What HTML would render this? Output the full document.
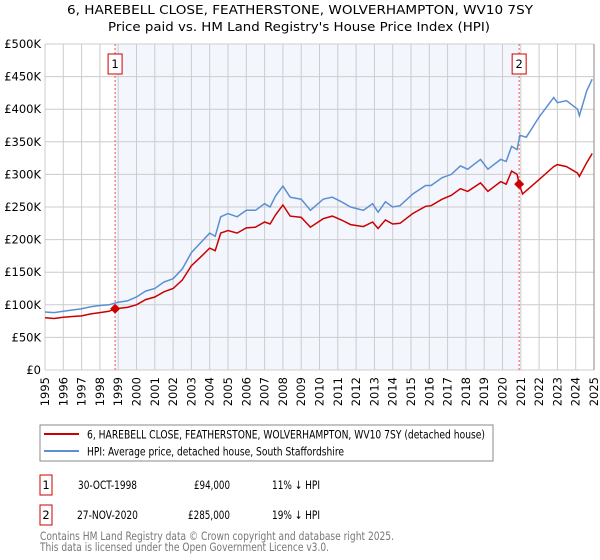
<!DOCTYPE html>
<html><head><meta charset="utf-8"><style>
body{margin:0;background:#fff;font-family:"DejaVu Sans","Liberation Sans",sans-serif;}
svg{display:block}
</style></head><body>
<svg id="c" width="600" height="560" xmlns="http://www.w3.org/2000/svg" font-family="DejaVu Sans, Liberation Sans, sans-serif">
<text x="67" y="14" font-size="12.5" textLength="466" lengthAdjust="spacingAndGlyphs" fill="#000">6, HAREBELL CLOSE, FEATHERSTONE, WOLVERHAMPTON, WV10 7SY</text>
<text x="108" y="31" font-size="12.5" textLength="382" lengthAdjust="spacingAndGlyphs" fill="#000">Price paid vs. HM Land Registry's House Price Index (HPI)</text>
<g id="plot"></g>
<rect x="40" y="425" width="453" height="36" fill="#fff" stroke="#888"/>
<line x1="44" y1="434" x2="79" y2="434" stroke="#cc0000" stroke-width="2"/>
<text x="87" y="438.5" font-size="11.5" textLength="398" lengthAdjust="spacingAndGlyphs">6, HAREBELL CLOSE, FEATHERSTONE, WOLVERHAMPTON, WV10 7SY (detached house)</text>
<line x1="44" y1="451" x2="79" y2="451" stroke="#5b8fd0" stroke-width="2"/>
<text x="87" y="455.5" font-size="11.5" textLength="257" lengthAdjust="spacingAndGlyphs">HPI: Average price, detached house, South Staffordshire</text>
<g font-size="11.5">
<rect x="40" y="475" width="12" height="20" fill="#fff" stroke="#cc0000"/>
<text x="46" y="489" text-anchor="middle">1</text>
<text x="78" y="489" textLength="59" lengthAdjust="spacingAndGlyphs">30-OCT-1998</text>
<text x="194" y="489" textLength="36" lengthAdjust="spacingAndGlyphs">£94,000</text>
<text x="272" y="489" textLength="48" lengthAdjust="spacingAndGlyphs">11% ↓ HPI</text>
<rect x="40" y="505" width="12" height="20" fill="#fff" stroke="#cc0000"/>
<text x="46" y="519" text-anchor="middle">2</text>
<text x="77" y="519" textLength="61" lengthAdjust="spacingAndGlyphs">27-NOV-2020</text>
<text x="188" y="519" textLength="42" lengthAdjust="spacingAndGlyphs">£285,000</text>
<text x="272" y="519" textLength="48" lengthAdjust="spacingAndGlyphs">19% ↓ HPI</text>
</g>
<text x="40" y="540" font-size="11.5" textLength="354" lengthAdjust="spacingAndGlyphs" fill="#777">Contains HM Land Registry data © Crown copyright and database right 2025.</text>
<text x="40" y="551" font-size="11.5" textLength="289" lengthAdjust="spacingAndGlyphs" fill="#777">This data is licensed under the Open Government Licence v3.0.</text>
</svg>
<script>
const yearTicks=[1995,1996,1997,1998,1999,2000,2001,2002,2003,2004,2005,2006,2007,2008,2009,2010,2011,2012,2013,2014,2015,2016,2017,2018,2019,2020,2021,2022,2023,2024,2025];
const valueTicks=[0,50,100,150,200,250,300,350,400,450,500];
const valueLabels=["£0","£50K","£100K","£150K","£200K","£250K","£300K","£350K","£400K","£450K","£500K"];
const hpiYears=[1995,1995.5,1996,1996.5,1997,1997.5,1998,1998.5,1999,1999.5,2000,2000.5,2001,2001.5,2002,2002.5,2003,2003.5,2004,2004.3,2004.6,2005,2005.5,2006,2006.5,2007,2007.3,2007.6,2008,2008.4,2009,2009.5,2010.2,2010.7,2011.2,2011.7,2012.4,2012.9,2013.2,2013.6,2014,2014.4,2015.1,2015.8,2016.1,2016.7,2017.2,2017.7,2018.1,2018.8,2019.2,2019.9,2020.2,2020.5,2020.8,2020.95,2021.3,2022,2022.8,2023,2023.5,2024.1,2024.2,2024.6,2024.9];
const hpiValues=[89,88,90,92,94,97,99,100,104,106,112,121,125,135,140,155,180,195,210,205,235,240,235,245,245,255,250,267,282,265,262,245,262,265,258,250,245,255,242,258,250,252,270,283,283,295,300,313,308,323,308,323,320,343,338,360,357,388,418,410,413,400,390,428,446];
const ppYears=[1995,1995.5,1996,1996.5,1997,1997.5,1998,1998.5,1998.83,1999.5,2000,2000.5,2001,2001.5,2002,2002.5,2003,2003.5,2004,2004.3,2004.6,2005,2005.5,2006,2006.5,2007,2007.3,2007.6,2008,2008.4,2009,2009.5,2010.2,2010.7,2011.2,2011.7,2012.4,2012.9,2013.2,2013.6,2014,2014.4,2015.1,2015.8,2016.1,2016.7,2017.2,2017.7,2018.1,2018.8,2019.2,2019.9,2020.2,2020.5,2020.8,2020.91,2021.1,2021.3,2022,2022.8,2023,2023.5,2024.1,2024.2,2024.6,2024.9];
const ppValues=[80,79,81,82,83,86,88,90,94,96,100,108,112,120,125,138,160,173,187,183,210,214,210,218,219,227,224,238,253,236,234,219,232,236,230,223,220,227,217,230,224,225,240,251,252,262,268,278,274,287,274,289,285,305,300,285,270,275,292,312,315,312,302,297,318,332];
const saleYears=[1998.83,2020.91];
const saleValues=[94,285];
const saleLabels=["1","2"];
const X0=45,X1=594,Y0=370,Y1=44;
const xs=y=>X0+(y-1995)/30*(X1-X0);
const ys=v=>Y0-v/500*(Y0-Y1);
const NS="http://www.w3.org/2000/svg";
const g=document.getElementById('plot');
function mk(t,a){const e=document.createElementNS(NS,t);for(const k in a)e.setAttribute(k,a[k]);g.appendChild(e);return e;}
let r=mk('rect',{x:xs(saleYears[0]),y:Y1,width:xs(saleYears[1])-xs(saleYears[0]),height:Y0-Y1,fill:'#f3f6fd'});


yearTicks.forEach(yr=>{
 const l=mk('line',{x1:xs(yr),x2:xs(yr),y1:Y1,y2:Y0,stroke:'#cccccc','stroke-width':1});
 
 
 const t=mk('text',{x:0,y:0,'font-size':'11.5',transform:`translate(${xs(yr)+4},${Y0+7}) rotate(-90)`,'text-anchor':'end'});
 t.textContent=yr;
 
 
});
valueTicks.forEach((v,i)=>{
 const l=mk('line',{x1:X0,x2:X1,y1:ys(v),y2:ys(v),stroke:'#cccccc','stroke-width':1});
 
 
 const t=mk('text',{x:X0-4,y:ys(v)+4,'font-size':'11.5','text-anchor':'end'});
 t.textContent=valueLabels[i];
 
 
});
const ax=mk('line',{x1:X1,x2:X1,y1:Y1,y2:Y0,stroke:'#888'});


saleYears.forEach((yr,i)=>{
 const l=mk('line',{x1:xs(yr),x2:xs(yr),y1:Y1,y2:Y0,stroke:'#ee5555','stroke-dasharray':'2,2','stroke-width':1});
 
 
 const b=mk('rect',{x:xs(yr)-7,y:54,width:14,height:20,fill:'#fff',stroke:'#cc0000'});
 
 
 const t=mk('text',{x:xs(yr),y:68,'font-size':'11.5','text-anchor':'middle'});
 t.textContent=saleLabels[i];
 
 
});
const hp=mk('path',{d:hpiYears.map((y,i)=>(i?'L':'M')+xs(y).toFixed(1)+','+ys(hpiValues[i]).toFixed(1)).join(''),fill:'none',stroke:'#5b8fd0','stroke-width':1.5});


const pp=mk('path',{d:ppYears.map((y,i)=>(i?'L':'M')+xs(y).toFixed(1)+','+ys(ppValues[i]).toFixed(1)).join(''),fill:'none',stroke:'#cc0000','stroke-width':1.5});


saleYears.forEach((yr,i)=>{
 const cx=xs(yr),cy=ys(saleValues[i]);
 const d=mk('path',{d:`M${cx},${cy-5}L${cx+5},${cy}L${cx},${cy+5}L${cx-5},${cy}Z`,fill:'#cc0000'});
 
 
});
</script>
</body></html>
